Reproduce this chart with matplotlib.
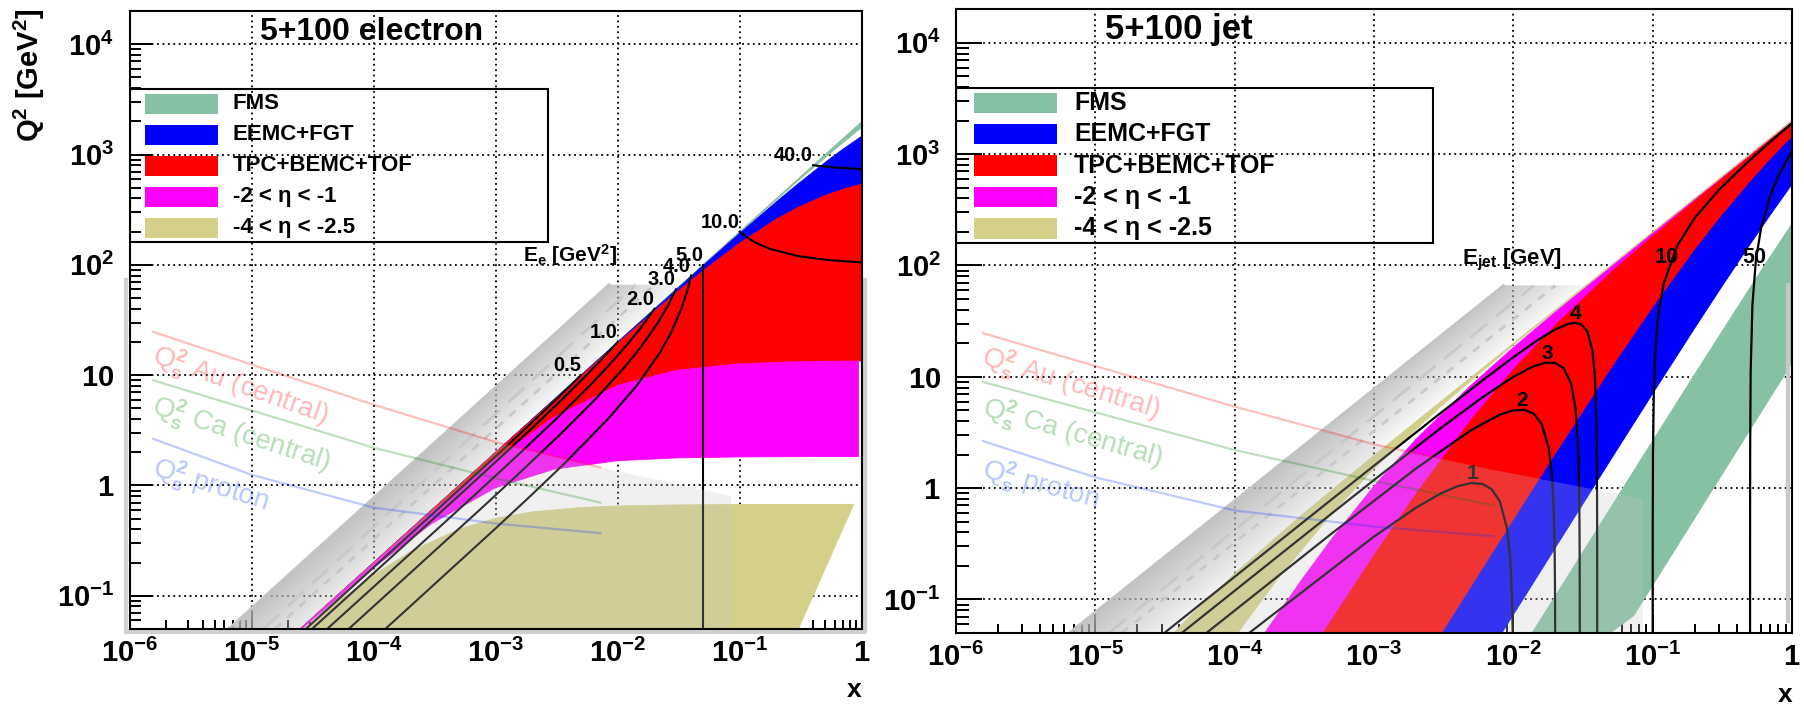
import numpy as np
import matplotlib.pyplot as plt
from matplotlib.patches import Rectangle
from matplotlib.lines import Line2D
from matplotlib.ticker import FixedLocator, LogLocator, FuncFormatter, NullFormatter

plt.rcParams['font.family'] = ['Liberation Sans', 'DejaVu Sans']
plt.rcParams['mathtext.fontset'] = 'custom'
plt.rcParams['mathtext.rm'] = 'Liberation Sans:bold'
plt.rcParams['mathtext.it'] = 'Liberation Sans:bold'
plt.rcParams['mathtext.bf'] = 'Liberation Sans:bold'
plt.rcParams['mathtext.sf'] = 'Liberation Sans:bold'
plt.rcParams['mathtext.default'] = 'rm'

# ---------------- legend ----------------
legend_labels = ['FMS', 'EEMC+FGT', 'TPC+BEMC+TOF', '-2 < η < -1', '-4 < η < -2.5']
legend_colors = ['#86c1a3', '#0000ff', '#ff0000', '#ff00ff', '#d4d08a']

# ---------------- left panel: 5+100 electron (x, Q2) ----------------
el_eta4_x = [2.5e-5, 1e-3, 1e-2, 0.1, 0.3, 0.6, 1.0]
el_eta4_q = [0.05, 2.0, 20.0, 199.9, 598.8, 1195.2, 1986.7]
el_eta25_x = [2.5e-5, 1e-3, 1e-2, 0.1, 0.3, 0.6, 1.0]
el_eta25_q = [0.05, 1.9997, 19.97, 197.3, 576.7, 1110.2, 1762.5]
el_eta2_x = [2.5e-5, 1e-3, 1e-2, 0.05, 0.1, 0.2, 0.3, 0.5, 0.7, 1.0]
el_eta2_q = [0.05, 1.9993, 19.93, 98.2, 192.9, 372.7, 540.6, 845.2, 1114.3, 1463.8]
el_eta1_x = [2.5e-5, 1e-3, 1e-2, 0.03, 0.05, 0.1, 0.2, 0.3, 0.5, 0.7, 1.0]
el_eta1_q = [0.05, 1.9946, 19.47, 55.49, 88.08, 157.4, 259.5, 331.1, 424.9, 483.6, 539.6]
el_etam1_x = [2.51e-5, 1e-4, 3e-4, 1e-3, 3e-3, 1e-2, 3e-2, 0.1, 0.3, 0.94, 1.0]
el_etam1_q = [0.05, 0.1971, 0.5745, 1.7425, 4.157, 8.072, 11.04, 12.676, 13.235, 13.437, 13.443]
el_etam2_x = [2.57e-5, 1e-4, 3e-4, 1e-3, 3e-3, 1e-2, 3e-2, 0.1, 0.3, 0.94]
el_etam2_q = [0.05, 0.1803, 0.452, 0.956, 1.403, 1.678, 1.777, 1.815, 1.826, 1.830]
el_etam25_x = [2.70e-5, 5e-5, 1e-4, 2e-4, 5e-4, 1e-3, 2e-3, 5e-3, 1e-2, 3e-2, 0.1, 0.3, 0.86, 0.303]
el_etam25_q = [0.05, 0.0871, 0.1542, 0.251, 0.4026, 0.504, 0.5766, 0.6313, 0.6519, 0.6663, 0.6716, 0.673, 0.6735, 0.05]

# scattered electron energy contours
ee_labels = ['0.5', '1.0', '2.0', '3.0', '4.0', '5.0', '10.0', '40.0']
ee05_x = [0.005, 0.004545, 0.003608, 0.002632, 0.001613, 0.001087, 0.000549, 5.55e-5, 2.22e-5]
ee05_q = [10, 9, 7, 5, 3, 2, 1, 0.1, 0.04]
ee1_x = [0.01, 0.009184, 0.007447, 0.005556, 0.003488, 0.002381, 0.00122, 0.000617, 0.0001247, 2.5e-5]
ee1_q = [20, 18, 14, 10, 6, 4, 2, 1, 0.2, 0.04]
ee2_x = [0.02, 0.01875, 0.01591, 0.0125, 0.008333, 0.005882, 0.003125, 0.001613, 0.000658, 0.000331, 3.33e-5]
ee2_q = [40, 36, 28, 20, 12, 8, 4, 2, 0.8, 0.4, 0.04]
ee3_x = [0.03, 0.02872, 0.02561, 0.02143, 0.01552, 0.01154, 0.006522, 0.003488, 0.001456, 0.000739, 7.49e-5, 3.75e-5]
ee3_q = [60, 54, 42, 30, 18, 12, 6, 3, 1.2, 0.6, 0.06, 0.03]
ee4_x = [0.04, 0.03913, 0.0381, 0.03684, 0.0333, 0.02727, 0.02222, 0.01429, 0.00833, 0.003704, 0.001923, 0.00098, 0.000199, 9.98e-5]
ee4_q = [80, 72, 64, 56, 40, 24, 16, 8, 4, 1.6, 0.8, 0.4, 0.08, 0.04]
ee5_x = [0.05, 0.05]
ee5_q = [100, 0.04]
ee10_x = [0.1, 0.1056, 0.1125, 0.1333, 0.175, 0.3, 0.55, 1.0]
ee10_q = [200, 190, 180, 160, 140, 120, 110, 105.3]
ee40_x = [0.4, 0.4304, 0.4667, 0.6333, 1.0]
ee40_q = [800, 792, 784, 760, 736.8]

# ---------------- right panel: 5+100 jet (x, Q2) ----------------
jt_eta25_x = [0.01362, 0.02, 0.05, 0.1, 0.2, 0.3, 0.5, 0.7, 1.0]
jt_eta25_q = [0.05, 0.1075, 0.669, 2.659, 10.50, 23.31, 63.13, 120.7, 237.5]
jt_eta4_x = [0.0495, 0.073, 0.1, 0.2, 0.3, 0.5, 0.7, 1.0]
jt_eta4_q = [0.05, 0.0715, 0.1341, 0.536, 1.205, 3.343, 6.544, 13.33]
jt_eta1_x = [3.04e-3, 5e-3, 0.01, 0.02, 0.05, 0.1, 0.2, 0.3, 0.5, 0.7, 1.0]
jt_eta1_q = [0.0496, 0.1335, 0.527, 2.054, 11.92, 42.60, 140.5, 268.9, 575.1, 916.4, 1460.4]
jt_eta2_x = [8.26e-3, 0.01, 0.02, 0.05, 0.1, 0.2, 0.3, 0.5, 0.7, 1.0]
jt_eta2_q = [0.0498, 0.073, 0.2909, 1.799, 7.067, 27.30, 59.41, 154.8, 285.7, 536.2]
jt_etam1_x = [4.24e-4, 1e-3, 2e-3, 5e-3, 0.01, 0.02, 0.05, 0.1, 0.2, 0.5, 1.0]
jt_etam1_q = [0.05, 0.2575, 0.9125, 4.249, 11.93, 29.89, 88.08, 187.3, 386.9, 986.6, 1986.6]
jt_etam2_x = [1.643e-4, 3e-4, 5e-4, 1e-3, 2e-3, 5e-3, 0.01, 0.02, 0.05, 0.1, 0.3, 1.0]
jt_etam2_q = [0.05, 0.148, 0.3532, 1.044, 2.744, 8.452, 18.32, 38.25, 98.2, 198.2, 598.2, 1998.2]
jt_etam25_x = [1.051e-4, 2e-4, 5e-4, 1e-3, 3e-3, 0.01, 0.1, 1.0]
jt_etam25_q = [0.05, 0.149, 0.5974, 1.496, 5.394, 19.35, 199.3, 1999.3]
jt_etam4_x = [3.649e-5, 5e-5, 1e-4, 3e-4, 1e-3, 3e-3, 0.01, 0.1, 1.0]
jt_etam4_q = [0.05, 0.07488, 0.1713, 0.5682, 1.967, 5.967, 19.97, 199.97, 2000]

# jet energy contours
jet_labels = ['1', '2', '3', '4', '10', '50']
jet1_x = [1e-4, 1e-3, 2e-3, 3e-3, 4e-3, 5e-3, 6e-3, 7e-3, 8e-3, 9e-3, 9.5e-3, 9.8e-3, 9.9e-3, 9.95e-3]
jet1_q = [0.03968, 0.3673, 0.6667, 0.8936, 1.0435, 1.1111, 1.0909, 0.9767, 0.7619, 0.4390, 0.2346, 0.0975, 0.0494, 0.02484]
jet2_x = [5e-5, 5e-4, 2e-3, 5e-3, 8e-3, 0.01, 0.012, 0.014, 0.016, 0.018, 0.019, 0.0195, 0.0198, 0.0199, 0.01995, 0.01998]
jet2_q = [0.03994, 0.3939, 1.5, 3.333, 4.571, 5.0, 5.053, 4.667, 3.765, 2.25, 1.226, 0.6393, 0.2623, 0.1322, 0.0664, 0.02662]
jet3_x = [3e-5, 3e-4, 1e-3, 3e-3, 6e-3, 0.01, 0.014, 0.017, 0.02, 0.023, 0.026, 0.028, 0.029, 0.0295, 0.0298, 0.0299, 0.02995, 0.02998, 0.02999]
jet3_q = [0.036, 0.3586, 1.184, 3.447, 6.545, 10.0, 12.44, 13.39, 13.33, 11.93, 8.667, 5.091, 2.762, 1.439, 0.5901, 0.2975, 0.1494, 0.0599, 0.02997]
jet4_x = [2e-5, 2e-4, 1e-3, 3e-3, 6e-3, 0.01, 0.015, 0.02, 0.025, 0.028, 0.031, 0.034, 0.037, 0.0385, 0.0395, 0.0398, 0.0399, 0.03995, 0.03999, 0.039995]
jet4_q = [0.032, 0.3197, 1.592, 4.723, 9.273, 15.0, 21.43, 26.67, 30.0, 30.55, 29.37, 25.5, 17.08, 10.04, 3.762, 1.561, 0.790, 0.3966, 0.0799, 0.04]
jet10_x = [0.100005, 0.10001, 0.1001, 0.1005, 0.102, 0.105, 0.11, 0.12, 0.15, 0.2, 0.3, 0.5, 0.7, 1.0]
jet10_q = [0.02, 0.04, 0.3996, 1.99, 7.846, 19.09, 36.67, 68.57, 150, 266.7, 480, 888.9, 1292, 1894.7]
jet50_x = [0.500015, 0.500025, 0.50025, 0.501, 0.505, 0.52, 0.55, 0.6, 0.7, 0.8, 0.9, 1.0]
jet50_q = [0.0333, 0.0556, 0.5556, 2.222, 11.1, 44.26, 110, 218.2, 430.8, 640, 847, 1052.6]
jet_lab_x = [5.1e-3, 0.0115, 0.0175, 0.028, 0.1265, 0.536]
jet_lab_q = [1.12, 5.06, 13.4, 30.5, 117, 117]

# ---------------- saturation overlay (same in both panels) ----------------
qs_x = [1.56e-6, 1e-5, 1e-4, 1.04e-3, 7.2e-3]
qs_au = [24.7, 12.5, 5.4, 2.45, 1.46]
qs_ca = [9.0, 4.8, 2.2, 1.15, 0.70]
qs_p = [2.65, 1.25, 0.63, 0.45, 0.37]
qs_labels = ['Q$_s^2$ Au (central)', 'Q$_s^2$ Ca (central)', 'Q$_s^2$ proton']
qs_lab_x = 1.55e-6
qs_lab_q = [15.0, 5.2, 1.45]
band_q = [0.05, 66]
band_edge_x = [6.5e-6, 8.5e-3]
band_far_x = [3.0e-5, 3.9e-2]
dash_long_x = [1.25e-5, 1.4e-2]
dash_short_x = [1.55e-5, 2.0e-2]
wash_x = [6.5e-6, 4.4e-4, 1.04e-3, 7.2e-3, 0.085, 0.085]
wash_q = [0.05, 3.3, 2.45, 1.46, 0.8, 0.05]

xticks = [1e-6, 1e-5, 1e-4, 1e-3, 1e-2, 1e-1, 1]
yticks = [0.1, 1, 10, 100, 1e3, 1e4]


def fmt(v, pos):
    e = int(round(np.log10(v)))
    if e == 0:
        return r'$1$'
    if e == 1:
        return r'$10$'
    return r'$10^{%d}$' % e


def setup(ax, ylen):
    ax.set_xscale('log')
    ax.set_yscale('log')
    ax.set_autoscale_on(False)
    ax.set_xlim(1e-6, 1)
    ax.set_ylim(0.05, 2e4)
    ax.xaxis.set_major_locator(FixedLocator(xticks))
    ax.yaxis.set_major_locator(FixedLocator(yticks))
    ax.xaxis.set_minor_locator(LogLocator(base=10, subs=np.arange(2, 10), numticks=30))
    ax.yaxis.set_minor_locator(LogLocator(base=10, subs=np.arange(2, 10), numticks=30))
    ax.xaxis.set_major_formatter(FuncFormatter(fmt))
    ax.yaxis.set_major_formatter(FuncFormatter(fmt))
    ax.xaxis.set_minor_formatter(NullFormatter())
    ax.yaxis.set_minor_formatter(NullFormatter())
    ax.tick_params(which='both', direction='in', top=False, right=False, width=1.4)
    ax.tick_params(axis='x', which='major', length=14, pad=7, labelsize=21)
    ax.tick_params(axis='x', which='minor', length=6.5)
    ax.tick_params(axis='y', which='major', length=ylen, pad=11, labelsize=21)
    ax.tick_params(axis='y', which='minor', length=ylen / 2)
    ax.grid(True, which='major', color='black', linestyle=(0, (1, 2)), linewidth=1.3)
    ax.set_axisbelow(True)
    for s in ax.spines.values():
        s.set_linewidth(1.5)
        s.set_zorder(7)


def band(ax, ux, uq, lx, lq, col):
    xs = list(ux) + list(lx)[::-1]
    qs = list(uq) + list(lq)[::-1]
    ax.fill(xs, qs, facecolor=col, edgecolor=col, lw=0.6, zorder=2)


def gray_band(ax):
    tr = ax.transData + ax.transAxes.inverted()
    a0, a1 = tr.transform([[band_edge_x[0], band_q[0]], [band_edge_x[1], band_q[1]]])
    b0, b1 = tr.transform([[band_far_x[0], band_q[0]], [band_far_x[1], band_q[1]]])
    uu, vv = np.meshgrid(np.linspace(0, 1, 1000), np.linspace(0, 1, 700))
    t = (vv - a0[1]) / (a1[1] - a0[1])
    ul = a0[0] + t * (a1[0] - a0[0])
    ur = b0[0] + t * (b1[0] - b0[0])
    f = (uu - ul) / (ur - ul)
    alpha = np.where((f >= 0) & (f <= 1) & (t <= 1), 0.75 * (1 - f), 0.0)
    img = np.zeros(uu.shape + (4,))
    img[..., :3] = 0.70
    img[..., 3] = alpha
    ax.imshow(img, extent=(0, 1, 0, 1), transform=ax.transAxes, origin='lower',
              aspect='auto', interpolation='bilinear', zorder=3.1)
    ax.plot(band_edge_x, band_q, color='#c4c4c4', lw=2, zorder=3.2)
    ax.plot(dash_long_x, band_q, color='#c8c8c8', lw=2, ls=(0, (8, 4)), zorder=3.2)
    ax.plot(dash_short_x, band_q, color='#c8c8c8', lw=2, ls=(0, (3, 3)), zorder=3.2)
    ax.fill(wash_x, wash_q, facecolor='#c6c6c6', edgecolor='none', alpha=0.26, zorder=3)
    ax.set_xlim(1e-6, 1)
    ax.set_ylim(0.05, 2e4)


def saturation(ax, rots):
    cols = [(1, 0, 0), (0, 0.5, 0), (0, 0.2, 1)]
    for qv, col, lab, lq, rot in zip([qs_au, qs_ca, qs_p], cols, qs_labels, qs_lab_q, rots):
        ax.plot(qs_x, qv, color=col, alpha=0.25, lw=1.6, zorder=3.3)
        ax.text(qs_lab_x, lq, lab, color=col, alpha=0.28, fontsize=20, rotation=rot,
                rotation_mode='anchor', ha='left', va='center', zorder=3.3)


def legend(ax, fs):
    ax.add_patch(Rectangle((0, 0.626), 0.571, 0.248, transform=ax.transAxes, fill=False,
                           lw=1.5, ec='black', zorder=6))
    for i, (lab, col) in enumerate(zip(legend_labels, legend_colors)):
        yc = 0.850 - 0.05025 * i
        ax.add_patch(Rectangle((0.021, yc - 0.0165), 0.100, 0.033, transform=ax.transAxes,
                               fc=col, ec='none', zorder=6))
        ax.text(0.141, yc, lab, transform=ax.transAxes, fontsize=fs, fontweight='bold',
                va='center', ha='left', zorder=6)


fig = plt.figure(figsize=(18.04, 7.04), dpi=100)
axL = fig.add_axes([129.5 / 1804, 75 / 704, 732.2 / 1804, 618 / 704])
axR = fig.add_axes([956 / 1804, 71 / 704, 836 / 1804, 623.7 / 704])
setup(axL, 16)
setup(axR, 19)

# ---- left panel ----
band(axL, el_eta4_x, el_eta4_q, el_eta25_x, el_eta25_q, legend_colors[0])
band(axL, el_eta2_x, el_eta2_q, el_eta1_x, el_eta1_q, legend_colors[1])
band(axL, el_eta1_x, el_eta1_q, el_etam1_x, el_etam1_q, legend_colors[2])
band(axL, el_etam1_x[:-1], el_etam1_q[:-1], el_etam2_x, el_etam2_q, legend_colors[3])
axL.fill(el_etam25_x, el_etam25_q, facecolor=legend_colors[4], edgecolor=legend_colors[4], lw=0.6, zorder=2)

ee_curves = [(ee05_x, ee05_q), (ee1_x, ee1_q), (ee2_x, ee2_q), (ee3_x, ee3_q),
             (ee4_x, ee4_q), (ee5_x, ee5_q), (ee10_x, ee10_q), (ee40_x, ee40_q)]
for (cx, cq), lab in zip(ee_curves, ee_labels):
    axL.plot(cx, cq, color='black', lw=1.5, zorder=2.6)
    axL.text(cx[0], cq[0], lab, fontsize=14.5, fontweight='bold', ha='right', va='bottom', zorder=5)

gray_band(axL)
saturation(axL, [-19.5, -18, -17])
legend(axL, 16)
axL.text(9.85e-3, 93, r'E$_e$ [GeV$^2$]', fontsize=15, fontweight='bold', ha='right', va='bottom', zorder=5)
axL.text(0.178, 0.966, '5+100 electron', transform=axL.transAxes, fontsize=23,
         fontweight='bold', ha='left', va='center', zorder=6)
axL.text(1.0, -0.099, 'x', transform=axL.transAxes, fontsize=19, fontweight='bold',
         ha='right', va='center')
axL.add_line(Line2D([-0.005, -0.005, 1.0045, 1.0045], [0.565, -0.005, -0.005, 0.565],
                    transform=axL.transAxes, color='#d0d0d0', lw=3, clip_on=False, zorder=1))

# ---- right panel ----
band(axR, jt_eta25_x + [1.0], jt_eta25_q + [13.33], jt_eta4_x, jt_eta4_q, legend_colors[0])
band(axR, jt_eta1_x, jt_eta1_q, jt_eta2_x, jt_eta2_q, legend_colors[1])
band(axR, jt_etam1_x, jt_etam1_q, jt_eta1_x, jt_eta1_q, legend_colors[2])
band(axR, jt_etam2_x, jt_etam2_q, jt_etam1_x, jt_etam1_q, legend_colors[3])
band(axR, jt_etam4_x, jt_etam4_q, jt_etam25_x, jt_etam25_q, legend_colors[4])

jet_curves = [(jet1_x, jet1_q), (jet2_x, jet2_q), (jet3_x, jet3_q), (jet4_x, jet4_q),
              (jet10_x, jet10_q), (jet50_x, jet50_q)]
for i, ((cx, cq), lab) in enumerate(zip(jet_curves, jet_labels)):
    axR.plot(cx, cq, color='black', lw=1.6, zorder=2.6)
    if i < 4:
        axR.text(jet_lab_x[i], jet_lab_q[i], lab, fontsize=15, fontweight='bold',
                 ha='center', va='bottom', zorder=2.7)
    else:
        axR.text(jet_lab_x[i], jet_lab_q[i], lab, fontsize=15.5, fontweight='bold',
                 ha='center', va='center', zorder=5)

gray_band(axR)
saturation(axR, [-17, -16, -15])
legend(axR, 18)
axR.text(0.0223, 85, r'E$_{jet}$ [GeV]', fontsize=16, fontweight='bold', ha='right', va='bottom', zorder=5)
axR.text(0.178, 0.967, '5+100 jet', transform=axR.transAxes, fontsize=25,
         fontweight='bold', ha='left', va='center', zorder=6)
axR.text(1.0, -0.0994, 'x', transform=axR.transAxes, fontsize=19, fontweight='bold',
         ha='right', va='center')
axR.add_line(Line2D([0.995, 0.995], [0.558, 0.02], transform=axR.transAxes,
                    color='#c8c8c8', lw=3, zorder=3.2))

fig.text(29 / 1804, 1 - 75 / 704, r'Q$^2$ [GeV$^2$]', rotation=90, ha='center', va='center',
         fontsize=21, fontweight='bold')

fig.savefig('out.png', dpi=100)
